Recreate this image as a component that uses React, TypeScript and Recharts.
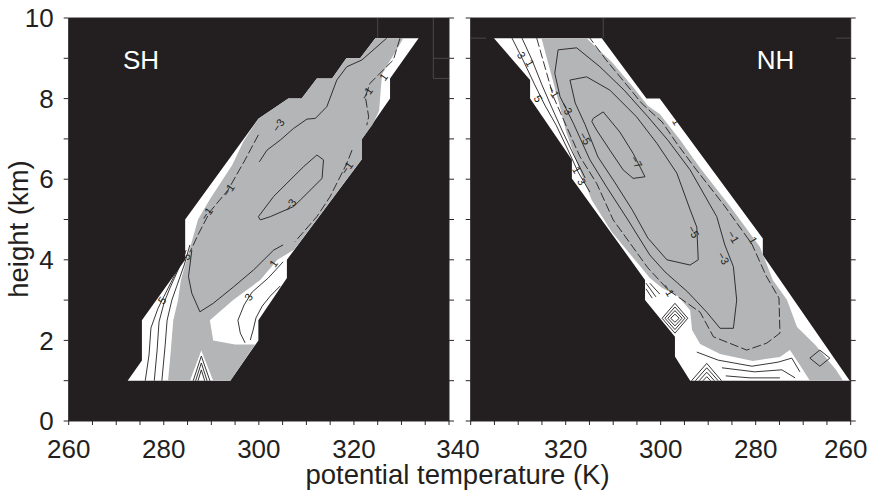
import React from "react";
import { ScatterChart, Scatter, XAxis, YAxis, CartesianGrid } from "recharts";

type Pt = [number, number];
type Tag = { t: number; h: number; text: string };

// axes
const thetaTicks = [260, 265, 270, 275, 280, 285, 290, 295, 300, 305, 310, 315, 320, 325, 330, 335, 340];
const heightTicks = [0, 1, 2, 3, 4, 5, 6, 7, 8, 9, 10];

// ---------- SH panel: [theta (K), height (km)] ----------
const shDomain: Pt[] = [
  [324.5, 9.5], [333.6, 9.5], [327.6, 8.5], [327.6, 8.0], [321.7, 7.0], [321.7, 6.5],
  [305.9, 4.0], [305.9, 3.55], [299.9, 2.5], [299.9, 2.0], [294.0, 1.0], [272.4, 1.0],
  [275.4, 1.5], [275.4, 2.5], [284.5, 4.0], [284.5, 5.0], [299.9, 7.5], [306.2, 8.0],
  [309.0, 8.0], [312.2, 8.5], [315.4, 8.5], [318.4, 9.0], [321.3, 9.0],
];
const shShade: Pt[] = [
  [324.5, 9.5], [330.4, 9.5], [325.9, 8.6], [325.3, 7.7], [323.9, 7.35], [321.7, 7.0],
  [321.7, 6.5], [307.4, 4.25], [303.9, 4.0], [300.3, 3.5], [294.6, 3.0], [289.7, 2.5],
  [290.4, 2.0], [295.0, 1.9], [299.2, 1.9], [294.0, 1.0], [290.4, 1.0], [287.9, 1.75],
  [285.5, 1.0], [280.9, 1.0], [281.3, 1.5], [282.0, 2.5], [283.0, 3.0], [283.6, 3.5],
  [284.7, 3.95], [286.0, 4.5], [287.2, 5.0], [289.7, 5.5], [294.4, 6.35], [296.8, 6.95],
  [299.9, 7.5], [306.2, 8.0], [309.0, 8.0], [312.2, 8.5], [315.4, 8.5], [318.4, 9.0], [321.3, 9.0],
];
const shMinus3Upper: Pt[] = [
  [326.9, 9.5], [321.7, 8.96], [318.5, 8.79], [316.4, 8.46], [314.3, 7.8], [311.9, 7.51],
  [310.1, 7.49], [307.3, 7.26], [304.5, 6.97], [301.7, 6.72], [300.1, 6.43],
];
const shMinus3Lower: Pt[] = [
  [312.2, 6.6], [313.6, 6.48], [313.3, 6.02], [308.7, 5.48], [307.3, 5.32], [302.4, 5.07],
  [300.3, 4.99], [299.9, 5.07], [303.1, 5.57], [305.9, 5.9], [309.4, 6.31], [312.2, 6.6],
];
const shMinus1Right: Pt[] = [
  [329.7, 9.5], [328.3, 8.96], [325.5, 8.63], [323.4, 8.38], [322.4, 8.05], [323.1, 7.55], [322.7, 7.34],
];
const shMinus1Mid: Pt[] = [[319.6, 6.72], [318.5, 6.39], [315.0, 5.57], [312.2, 5.07], [307.6, 4.45]];
const shMinus1Left: Pt[] = [
  [299.9, 7.1], [297.1, 6.48], [293.5, 5.73], [289.7, 5.19], [287.2, 4.62], [285.5, 4.19],
];
const shTongue: Pt[] = [
  [285.9, 4.24], [285.2, 3.58], [285.9, 3.17], [287.6, 2.71], [290.4, 2.92], [294.7, 3.33],
  [298.9, 3.75], [303.1, 4.24], [305.1, 4.37],
];
const shPlusA: Pt[] = [[285.5, 4.37], [284.3, 3.87], [282.8, 3.37], [281.7, 3.0], [280.7, 2.5], [280.3, 1.89], [279.6, 1.0]];
const shPlusB: Pt[] = [[284.7, 4.24], [283.2, 3.8], [281.3, 3.3], [280.1, 2.95], [279.0, 2.46], [278.6, 1.76], [278.0, 1.0]];
const shPlusC: Pt[] = [[283.6, 3.9], [282.2, 3.6], [280.5, 3.2], [278.8, 2.8], [277.3, 2.31], [276.9, 1.64], [276.1, 1.0]];
const shPlusR1: Pt[] = [[305.1, 3.95], [302.0, 3.55], [298.6, 3.2], [296.9, 2.88], [295.6, 2.5], [296.1, 2.18], [297.1, 1.94]];
const shPlusR2: Pt[] = [[304.5, 3.35], [302.4, 3.1], [300.7, 2.85], [299.4, 2.56], [298.8, 2.26], [298.2, 2.01]];
const shTri1: Pt[] = [[286.2, 1.0], [287.9, 1.61], [289.7, 1.0]];
const shTri2: Pt[] = [[286.7, 1.0], [287.9, 1.44], [289.1, 1.0]];
const shTri3: Pt[] = [[287.2, 1.0], [287.9, 1.27], [288.6, 1.0]];
// faint grid-cell edges visible in the masked (black) area
const shCellA: Pt[] = [[336.7, 10], [336.7, 8.5], [340, 8.5]];
const shCellB: Pt[] = [[336.7, 9.0], [340, 9.0]];
const shCellC: Pt[] = [[325.0, 10], [325.0, 9.5]];
const shTags: Tag[] = [
  { t: 304.1, h: 7.34, text: "−3" }, { t: 306.6, h: 5.36, text: "−3" },
  { t: 322.7, h: 8.13, text: "−1" }, { t: 326.2, h: 8.54, text: "1" },
  { t: 293.6, h: 5.73, text: "−1" }, { t: 289.0, h: 5.15, text: "−1" },
  { t: 318.5, h: 6.28, text: "−1" }, { t: 303.1, h: 3.91, text: "1" },
  { t: 297.8, h: 3.08, text: "3" }, { t: 279.6, h: 3.0, text: "5" }, { t: 284.8, h: 4.09, text: "5" },
];
const shName: Tag[] = [{ t: 271.4, h: 8.74, text: "SH" }];

// ---------- NH panel ----------
const nhDomain: Pt[] = [
  [335.1, 9.5], [312.4, 9.5], [303.0, 8.0], [300.2, 8.0], [278.5, 4.53], [278.5, 4.12],
  [260.2, 1.0], [293.8, 1.0], [297.0, 1.6], [297.0, 2.09], [303.3, 3.0], [303.3, 3.5],
  [318.7, 6.02], [318.7, 6.48], [327.5, 8.0], [327.5, 8.46],
];
const nhShade: Pt[] = [
  [325.1, 9.5], [315.6, 9.5], [310.3, 8.91], [306.0, 8.31], [302.7, 7.82], [300.2, 7.62],
  [295.9, 6.97], [291.7, 6.28], [285.4, 5.33], [279.1, 4.32], [276.4, 3.5], [273.4, 3.0],
  [271.3, 2.33], [267.5, 1.89], [263.1, 1.27], [261.6, 1.0], [268.6, 1.0], [270.7, 1.39],
  [272.8, 1.76], [274.9, 1.59], [280.6, 1.49], [287.5, 1.66], [291.7, 1.91], [293.4, 2.26],
  [293.8, 2.75], [296.4, 3.1], [299.7, 3.3], [302.3, 3.55], [304.4, 3.85], [310.3, 4.69],
  [314.5, 5.48], [317.4, 6.33], [319.9, 7.17], [321.6, 7.97], [323.3, 8.71],
];
const nhMinus7: Pt[] = [
  [314.2, 7.51], [312.1, 7.67], [308.6, 7.17], [305.8, 6.64], [303.3, 6.06], [305.8, 6.02],
  [307.9, 6.23], [310.7, 6.72], [313.5, 7.22], [314.5, 7.43], [314.2, 7.51],
];
const nhMinus5: Pt[] = [
  [319.1, 8.46], [315.6, 8.54], [310.7, 8.21], [305.1, 7.55], [300.8, 6.89], [296.6, 6.15],
  [293.8, 5.24], [292.4, 4.81], [292.1, 4.0], [293.8, 3.87], [298.7, 4.0], [302.7, 4.54],
  [306.0, 5.24], [309.6, 5.91], [313.2, 6.55], [315.9, 7.35], [318.0, 7.89], [319.1, 8.46],
];
const nhMinus3: Pt[] = [
  [321.6, 9.21], [317.7, 9.26], [312.8, 8.79], [307.7, 8.21], [302.7, 7.55], [298.5, 6.97],
  [293.8, 6.23], [288.2, 5.07], [286.5, 4.37], [284.7, 3.83], [284.0, 3.0], [284.7, 2.3],
  [287.5, 2.3], [290.3, 2.7], [294.3, 3.2], [299.1, 3.7], [302.3, 4.12], [306.9, 4.99],
  [311.4, 5.81], [314.9, 6.48], [318.4, 7.39], [321.2, 8.05], [322.3, 8.63], [321.6, 9.21],
];
const nhMinus1: Pt[] = [
  [326.1, 9.5], [324.0, 8.63], [322.6, 8.05], [319.8, 7.3], [317.0, 6.56], [313.5, 5.9],
  [310.0, 4.99], [306.5, 4.42], [302.7, 3.8], [298.4, 3.25], [291.7, 2.7], [288.9, 2.09],
  [281.9, 1.76], [277.7, 1.93], [274.9, 2.18], [275.1, 3.05], [277.8, 3.6], [280.8, 4.39],
  [286.7, 5.36], [292.8, 6.28], [296.8, 6.92], [299.7, 7.42], [303.9, 7.87], [307.3, 8.36],
  [311.5, 8.96], [314.9, 9.5],
];
const nhPlusP1: Pt[] = [[331.3, 9.5], [329.0, 8.96], [326.5, 8.34], [324.4, 7.84], [322.0, 7.34], [319.5, 6.72], [317.4, 6.18], [314.9, 5.68]];
const nhPlusP2: Pt[] = [[329.2, 9.5], [327.1, 8.96], [325.0, 8.34], [322.9, 7.77], [320.8, 7.22], [318.3, 6.6], [315.9, 6.03]];
const nhDiamond1: Pt[] = [[294.3, 2.55], [297.0, 2.92], [299.7, 2.55], [297.0, 2.18], [294.3, 2.55]];
const nhDiamond2: Pt[] = [[294.9, 2.55], [297.0, 2.83], [299.1, 2.55], [297.0, 2.27], [294.9, 2.55]];
const nhDiamond3: Pt[] = [[295.5, 2.55], [297.0, 2.74], [298.5, 2.55], [297.0, 2.36], [295.5, 2.55]];
const nhDiamond4: Pt[] = [[296.1, 2.55], [297.0, 2.65], [297.9, 2.55], [297.0, 2.45], [296.1, 2.55]];
const nhTri1: Pt[] = [[293.5, 1.0], [290.3, 1.43], [287.2, 1.0]];
const nhTri2: Pt[] = [[292.7, 1.0], [290.3, 1.32], [287.9, 1.0]];
const nhTri3: Pt[] = [[291.9, 1.0], [290.3, 1.21], [288.7, 1.0]];
const nhTri4: Pt[] = [[291.1, 1.0], [290.3, 1.1], [289.5, 1.0]];
const nhWave1: Pt[] = [[292.4, 1.71], [287.9, 1.51], [280.8, 1.36], [275.3, 1.46], [272.4, 1.56], [270.7, 1.22]];
const nhWave2: Pt[] = [[287.1, 1.32], [280.2, 1.22], [274.5, 1.27], [271.7, 1.07]];
const nhWave3: Pt[] = [[286.3, 1.12], [281.2, 1.07], [274.9, 1.07]];
const nhHatch1: Pt[] = [[303.1, 3.42], [301.0, 3.08]];
const nhHatch2: Pt[] = [[303.1, 3.28], [301.8, 3.05]];
const nhHatch3: Pt[] = [[302.3, 3.42], [300.2, 3.15]];
const nhBox: Pt[] = [[268.6, 1.56], [266.5, 1.76], [264.4, 1.56], [266.5, 1.36], [268.6, 1.56]];
const nhCellA: Pt[] = [[312.1, 10], [312.1, 9.5]];
const nhCellB: Pt[] = [[340, 9.5], [336.8, 9.5]];
const nhCellC: Pt[] = [[263.1, 9.5], [260, 9.5]];
const nhTags: Tag[] = [
  { t: 329.3, h: 9.08, text: "3" }, { t: 327.5, h: 8.88, text: "1" }, { t: 325.8, h: 8.0, text: "5" },
  { t: 322.6, h: 8.17, text: "−1" }, { t: 319.8, h: 7.76, text: "−3" }, { t: 315.9, h: 7.01, text: "−5" },
  { t: 305.1, h: 6.43, text: "−7" }, { t: 296.6, h: 7.43, text: "1" }, { t: 293.1, h: 4.7, text: "−5" },
  { t: 284.7, h: 4.57, text: "−1" }, { t: 286.8, h: 4.04, text: "−3" }, { t: 280.5, h: 4.49, text: "1" },
  { t: 298.4, h: 3.25, text: "−1" }, { t: 317.7, h: 6.23, text: "1" }, { t: 316.6, h: 5.94, text: "3" },
];
const nhName: Tag[] = [{ t: 279.8, h: 8.74, text: "NH" }];

const INK = "#231f20";
const SHADE = "#b4b5b7";
const PAPER = "#ffffff";
const TICK = "#2a2627";
const CELL = "#4f4b4c";
const FONT = '"Liberation Sans", Arial, Helvetica, sans-serif';

const rows = (pts: Pt[]) => pts.map(([t, h]) => ({ t, h }));
const hidden = () => <g />;

function area(key: string, pts: Pt[], color: string) {
  return (
    <Scatter key={key} data={rows(pts)} shape={hidden} isAnimationActive={false}
      line={{ fill: color, stroke: "none" }} />
  );
}

function contour(key: string, pts: Pt[], dashed = false, color = INK) {
  return (
    <Scatter key={key} data={rows(pts)} shape={hidden} isAnimationActive={false}
      line={{ fill: "none", stroke: color, strokeWidth: 0.9, strokeDasharray: dashed ? "9 3" : undefined }} />
  );
}

function tags(key: string, data: Tag[], angle: number) {
  return (
    <Scatter key={key} data={data} isAnimationActive={false}
      shape={(p: any) => (
        <text x={p.cx} y={p.cy} transform={`rotate(${angle} ${p.cx} ${p.cy})`} textAnchor="middle"
          dominantBaseline="central" fontSize={11} fill={INK} fontFamily={FONT}>{p.payload.text}</text>
      )} />
  );
}

function name(key: string, data: Tag[]) {
  return (
    <Scatter key={key} data={data} isAnimationActive={false}
      shape={(p: any) => (
        <text x={p.cx} y={p.cy} fontSize={26} fill={PAPER} fontFamily={FONT}>{p.payload.text}</text>
      )} />
  );
}

const bottomTick = (side: "sh" | "nh") => (p: any) => {
  const v = p.payload.value;
  if (v % 20 !== 0 || (side === "nh" && v === 340)) return <g />;
  let dx = 0;
  if (side === "sh" && v === 340) dx = 9;
  if (side === "nh" && v === 260) dx = -5;
  return (
    <text x={p.x + dx} y={p.y} dy="0.71em" textAnchor="middle" fontSize={26} fill={INK} fontFamily={FONT}>{v}</text>
  );
};

function frame(side: "sh" | "nh") {
  const reversed = side === "nh";
  return [
    <CartesianGrid key="bg" horizontal={false} vertical={false} fill={INK} fillOpacity={1} stroke="none" />,
    <XAxis key="xb" dataKey="t" type="number" domain={[260, 340]} allowDataOverflow ticks={thetaTicks} interval={0}
      reversed={reversed} height={30} tickSize={4} tickMargin={15} axisLine={{ stroke: TICK }}
      tickLine={{ stroke: TICK }} tick={bottomTick(side)} />,
    <XAxis key="xt" xAxisId="top" orientation="top" type="number" domain={[260, 340]} allowDataOverflow
      ticks={thetaTicks} interval={0} reversed={reversed} height={1} tickSize={4} tick={hidden}
      axisLine={{ stroke: TICK }} tickLine={{ stroke: TICK }} />,
    <YAxis key="yl" dataKey="h" type="number" domain={[0, 10]} allowDataOverflow ticks={heightTicks} interval={0}
      width={side === "sh" ? 60 : 1} tickSize={5} tickMargin={10}
      tick={side === "sh" ? { fontSize: 26, fill: INK, fontFamily: FONT } : hidden}
      tickFormatter={(v: number) => (v % 2 === 0 ? String(v) : "")}
      axisLine={{ stroke: TICK }} tickLine={{ stroke: TICK }} />,
    <YAxis key="yr" yAxisId="r" orientation="right" type="number" domain={[0, 10]} allowDataOverflow
      ticks={heightTicks} interval={0} width={1} tickSize={5} tick={hidden}
      axisLine={{ stroke: TICK }} tickLine={{ stroke: TICK }} />,
  ];
}

export default function App() {
  return (
    <div style={{ position: "absolute", left: 0, top: 0, width: 869, height: 494, background: "#fff", overflow: "hidden" }}>
      <div style={{ position: "absolute", left: 0, top: 0 }}>
        <ScatterChart width={482} height={494} margin={{ top: 17, right: 32, bottom: 43, left: 8.7 }}>
          {frame("sh")}
          {contour("sc1", shCellA, false, CELL)}
          {contour("sc2", shCellB, false, CELL)}
          {contour("sc3", shCellC, false, CELL)}
          {area("shDomain", shDomain, PAPER)}
          {area("shShade", shShade, SHADE)}
          {contour("s1", shMinus3Upper)}
          {contour("s2", shMinus3Lower)}
          {contour("s3", shMinus1Right, true)}
          {contour("s4", shMinus1Mid, true)}
          {contour("s5", shMinus1Left, true)}
          {contour("s6", shTongue)}
          {contour("s7", shPlusA)}
          {contour("s8", shPlusB)}
          {contour("s9", shPlusC)}
          {contour("s10", shPlusR1)}
          {contour("s11", shPlusR2)}
          {contour("s12", shTri1)}
          {contour("s13", shTri2)}
          {contour("s14", shTri3)}
          {tags("shTags", shTags, -55)}
          {name("shName", shName)}
        </ScatterChart>
      </div>
      <div style={{ position: "absolute", left: 460, top: 0 }}>
        <ScatterChart width={409} height={494} margin={{ top: 17, right: 17.3, bottom: 43, left: 9.7 }}>
          {frame("nh")}
          {contour("nc1", nhCellA, false, CELL)}
          {contour("nc2", nhCellB, false, CELL)}
          {contour("nc3", nhCellC, false, CELL)}
          {area("nhDomain", nhDomain, PAPER)}
          {area("nhShade", nhShade, SHADE)}
          {contour("n1", nhMinus7)}
          {contour("n2", nhMinus5)}
          {contour("n3", nhMinus3)}
          {contour("n4", nhMinus1, true)}
          {contour("n5", nhPlusP1)}
          {contour("n6", nhPlusP2)}
          {contour("n7", nhDiamond1)}
          {contour("n8", nhDiamond2)}
          {contour("n9", nhDiamond3)}
          {contour("n10", nhDiamond4)}
          {contour("n11", nhTri1)}
          {contour("n12", nhTri2)}
          {contour("n13", nhTri3)}
          {contour("n14", nhTri4)}
          {contour("n15", nhWave1)}
          {contour("n16", nhWave2)}
          {contour("n17", nhWave3)}
          {contour("n18", nhHatch1)}
          {contour("n19", nhHatch2)}
          {contour("n20", nhHatch3)}
          {contour("n21", nhBox)}
          {tags("nhTags", nhTags, 60)}
          {name("nhName", nhName)}
        </ScatterChart>
      </div>
      <svg width={869} height={494} style={{ position: "absolute", left: 0, top: 0, pointerEvents: "none" }}>
        <text x={457.5} y={484} textAnchor="middle" fontSize={27.5} fill={INK} fontFamily={FONT}>
          potential temperature (K)
        </text>
        <text transform="translate(28,229) rotate(-90)" textAnchor="middle" fontSize={27.5} fill={INK} fontFamily={FONT}>
          height (km)
        </text>
      </svg>
    </div>
  );
}
